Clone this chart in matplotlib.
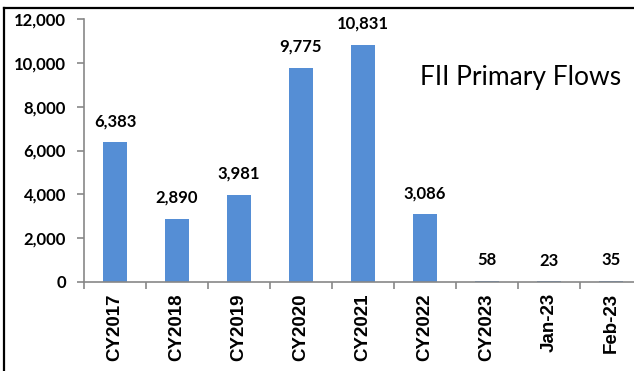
import matplotlib
matplotlib.use("Agg")
import matplotlib.pyplot as plt
from matplotlib.lines import Line2D
import numpy as np

categories = ["CY2017", "CY2018", "CY2019", "CY2020", "CY2021", "CY2022", "CY2023", "Jan-23", "Feb-23"]
values = [6383, 2890, 3981, 9775, 10831, 3086, 58, 23, 35]
yticks = [0, 2000, 4000, 6000, 8000, 10000, 12000]
title = "FII Primary Flows"

W, H = 634, 371
fig = plt.figure(figsize=(W / 100, H / 100), dpi=100)
left, right = 84, 642
top, bottom = 19, 282
ax = fig.add_axes([left / W, 1 - bottom / H, (right - left) / W, (bottom - top) / H])

bar_color = "#558ED5"
axis_color = "#878787"
x = np.arange(len(categories))
ax.bar(x, values, width=0.4, color=bar_color, zorder=2)
ax.set_xlim(-0.5, len(categories) - 0.5)
ax.set_ylim(0, 12000)

for s in ["top", "right"]:
    ax.spines[s].set_visible(False)
for s in ["left", "bottom"]:
    ax.spines[s].set_color(axis_color)
    ax.spines[s].set_linewidth(1.2)

ax.set_yticks(yticks)
ax.set_yticklabels([f"{v:,}" for v in yticks], fontfamily="Lato", fontweight="bold", fontsize=12)
ax.tick_params(axis="y", length=5, width=1.2, color=axis_color, pad=8)

ax.set_xticks(np.arange(len(categories) + 1) - 0.5)
ax.set_xticklabels([])
ax.tick_params(axis="x", which="major", length=5, width=1.2, color=axis_color, direction="out")
ax.set_xticks(x, minor=True)
ax.set_xticklabels(categories, minor=True, rotation=90, fontfamily="Liberation Sans",
                   fontweight="bold", fontsize=13.5)
ax.tick_params(axis="x", which="minor", length=0, pad=8)

for xi, v in zip(x, values):
    ax.annotate(f"{v:,}", (xi, v), xytext=(0, 15), textcoords="offset points",
                ha="center", va="center", fontfamily="Lato", fontweight="bold", fontsize=12)

fig.text(521 / W, 1 - 77 / H, title, ha="center", va="center", fontfamily="Lato", fontsize=19)

fig.add_artist(Line2D([3.5 / W, 1], [1 - 8 / H, 1 - 8 / H], color="black", lw=1.6, transform=fig.transFigure))
fig.add_artist(Line2D([3.5 / W, 3.5 / W], [0, 1 - 8 / H], color="black", lw=1.6, transform=fig.transFigure))

fig.savefig("out.png", dpi=100)
